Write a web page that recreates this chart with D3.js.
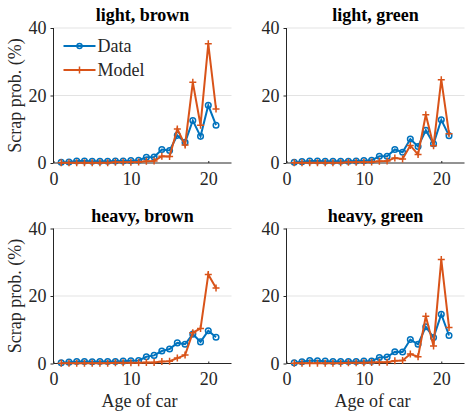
<!DOCTYPE html>
<html>
<head>
<meta charset="utf-8">
<script src="https://cdn.jsdelivr.net/npm/d3@7"></script>
<style>
  body { margin: 0; background: #fff; }
  svg text { font-family: "Liberation Serif", "Times New Roman", serif; fill: #262626; }
</style>
</head>
<body>
<div id="chart"></div>
<script>
// ages 1..21
const ages = d3.range(1, 22)
const titles = ['light, brown', 'light, green', 'heavy, brown', 'heavy, green']
const yTicks = [0, 20, 40]
const xTicks = [0, 10, 20]

const dataLightBrown  = [0.2, 0.3, 0.6, 0.6, 0.5, 0.5, 0.5, 0.6, 0.6, 0.7, 0.8, 1.7, 1.8, 4.0, 3.7, 8.2, 6.1, 12.6, 7.9, 17.1, 11.2]
const modelLightBrown = [0.1, 0.1, 0.1, 0.1, 0.1, 0.1, 0.1, 0.2, 0.2, 0.2, 0.3, 0.5, 0.6, 2.0, 1.9, 10.1, 5.3, 23.9, 11.2, 35.3, 16.0]
const dataLightGreen  = [0.2, 0.4, 0.6, 0.6, 0.5, 0.5, 0.5, 0.5, 0.6, 0.7, 0.8, 2.0, 2.0, 4.0, 3.2, 7.1, 4.9, 9.7, 5.7, 12.8, 8.1]
const modelLightGreen = [0.1, 0.1, 0.1, 0.1, 0.1, 0.1, 0.1, 0.2, 0.2, 0.2, 0.3, 0.5, 0.6, 1.5, 1.2, 5.2, 2.5, 14.3, 5.1, 24.7, 8.7]
const dataHeavyBrown  = [0.2, 0.4, 0.6, 0.6, 0.5, 0.6, 0.6, 0.6, 0.7, 0.8, 0.9, 2.0, 2.4, 3.7, 4.3, 6.1, 5.7, 8.7, 6.4, 9.7, 7.8]
const modelHeavyBrown = [0.1, 0.1, 0.1, 0.1, 0.1, 0.1, 0.1, 0.2, 0.2, 0.2, 0.2, 0.3, 0.3, 0.6, 0.7, 1.6, 2.5, 9.1, 10.4, 26.4, 22.4]
const dataHeavyGreen  = [0.2, 0.5, 0.9, 0.8, 0.7, 0.6, 0.6, 0.6, 0.6, 0.7, 0.7, 1.8, 1.9, 3.5, 3.4, 7.1, 5.7, 10.9, 7.7, 14.6, 8.3]
const modelHeavyGreen = [0.1, 0.1, 0.1, 0.1, 0.1, 0.1, 0.1, 0.2, 0.2, 0.2, 0.3, 0.4, 0.4, 0.8, 0.9, 2.8, 2.0, 14.0, 5.2, 30.8, 10.7]

const panels = [
  { title: titles[0], data: dataLightBrown, model: modelLightBrown, left: 53.5, top: 28, legend: true, ylab: true, xlab: false },
  { title: titles[1], data: dataLightGreen, model: modelLightGreen, left: 286.5, top: 28, legend: false, ylab: false, xlab: false },
  { title: titles[2], data: dataHeavyBrown, model: modelHeavyBrown, left: 53.5, top: 228.5, legend: false, ylab: true, xlab: true },
  { title: titles[3], data: dataHeavyGreen, model: modelHeavyGreen, left: 286.5, top: 228.5, legend: false, ylab: false, xlab: true }
]

const width = 465
const height = 413
const pw = 178
const ph = 135
const blue = '#0072BD'
const orange = '#D95319'
const serif = '"Liberation Serif", "Times New Roman", serif'

const svg = d3.select('#chart')
              .append('svg')
              .attr('width', width)
              .attr('height', height)
              .attr('font-family', serif)

const xScale = d3.scaleLinear().domain([0, 23]).range([0, pw])
const yScale = d3.scaleLinear().domain([0, 40]).range([ph, 0])

const line = d3.line()
               .x((d, i) => xScale(ages[i]))
               .y(d => yScale(d))

function plus(sel, color) {
  sel.append('path')
     .attr('d', 'M-3.5,0H3.5M0,-3.5V3.5')
     .attr('stroke', color)
     .attr('stroke-width', 1.5)
}

panels.forEach(function(p) {
  let g = svg.append('g')
             .attr('transform', 'translate(' + p.left + ',' + p.top + ')')

  //Grid
  g.selectAll('.grid')
   .data(yTicks.slice(1))
   .enter()
   .append('line')
   .attr('x1', 0)
   .attr('x2', pw)
   .attr('y1', d => yScale(d))
   .attr('y2', d => yScale(d))
   .attr('stroke', '#e3e3e3')
   .attr('stroke-width', 1)

  //Axes
  let yAxis = d3.axisLeft(yScale).tickValues(yTicks).tickSize(3).tickPadding(4)
  let xAxis = d3.axisBottom(xScale).tickValues(xTicks).tickSize(-2).tickPadding(9)

  let gy = g.append('g').call(yAxis)
  let gx = g.append('g').attr('transform', 'translate(0,' + ph + ')').call(xAxis)
  ;[gx, gy].forEach(function(a) {
    a.attr('font-family', serif).attr('font-size', 18)
    a.select('.domain').attr('stroke', '#262626').attr('d', a === gx ? 'M0,0H' + pw : 'M0,0V' + ph)
    a.selectAll('.tick line').attr('stroke', '#262626')
    a.selectAll('text').attr('fill', '#262626')
  })
  gx.selectAll('text').attr('dy', '0.71em')

  //Title
  g.append('text')
   .attr('x', pw / 2)
   .attr('y', -7)
   .attr('text-anchor', 'middle')
   .style('font-size', '18px')
   .style('font-weight', 'bold')
   .style('fill', '#000')
   .text(p.title)

  //Lines
  g.append('path')
   .attr('d', line(p.data))
   .attr('fill', 'none')
   .attr('stroke', blue)
   .attr('stroke-width', 2)

  g.selectAll('.circ')
   .data(p.data)
   .enter()
   .append('circle')
   .attr('cx', (d, i) => xScale(ages[i]))
   .attr('cy', d => yScale(d))
   .attr('r', 2.8)
   .attr('fill', 'none')
   .attr('stroke', blue)
   .attr('stroke-width', 1.5)

  g.append('path')
   .attr('d', line(p.model))
   .attr('fill', 'none')
   .attr('stroke', orange)
   .attr('stroke-width', 2)

  p.model.forEach(function(d, i) {
    g.append('g')
     .attr('transform', 'translate(' + xScale(ages[i]) + ',' + yScale(d) + ')')
     .call(plus, orange)
  })

  //Labels
  if (p.ylab) {
    g.append('text')
     .attr('transform', 'rotate(-90)')
     .attr('x', -ph / 2)
     .attr('y', -33)
     .attr('text-anchor', 'middle')
     .style('font-size', '18px')
     .text('Scrap prob. (%)')
  }
  if (p.xlab) {
    g.append('text')
     .attr('x', pw / 2 - 3)
     .attr('y', ph + 43)
     .attr('text-anchor', 'middle')
     .style('font-size', '18px')
     .text('Age of car')
  }

  //Legend
  if (p.legend) {
    let lg = g.append('g').attr('transform', 'translate(10,18)')
    lg.append('line').attr('x1', 0).attr('x2', 32).attr('y1', 0).attr('y2', 0)
      .attr('stroke', blue).attr('stroke-width', 2)
    lg.append('circle').attr('cx', 16).attr('cy', 0).attr('r', 2.5)
      .attr('fill', 'none').attr('stroke', blue).attr('stroke-width', 1.5)
    lg.append('text').attr('x', 34).attr('y', 6).style('font-size', '18px').text('Data')
    lg.append('line').attr('x1', 0).attr('x2', 32).attr('y1', 24).attr('y2', 24)
      .attr('stroke', orange).attr('stroke-width', 2)
    lg.append('g').attr('transform', 'translate(16,24)').call(plus, orange)
    lg.append('text').attr('x', 34).attr('y', 30).style('font-size', '18px').text('Model')
  }
})
</script>
</body>
</html>
